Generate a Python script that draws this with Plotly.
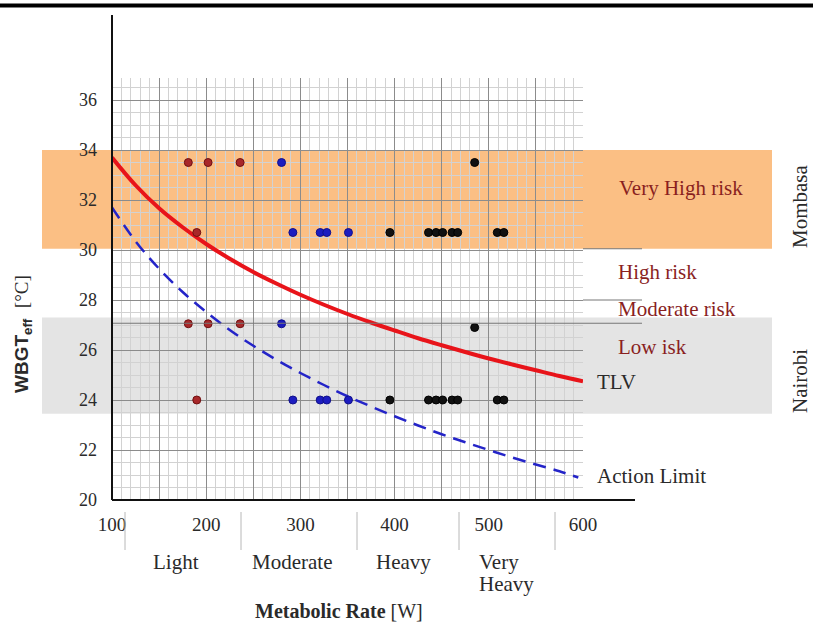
import plotly.graph_objects as go

# ---------------- data ----------------
curve_rate = [100, 125, 150, 175, 200, 225, 250, 275, 300, 325, 350,
              375, 400, 425, 450, 475, 500, 525, 550, 575, 600]
tlv_values = [33.70, 32.59, 31.67, 30.91, 30.24, 29.65, 29.12, 28.65, 28.21, 27.81, 27.44,
              27.10, 26.78, 26.47, 26.19, 25.92, 25.66, 25.42, 25.19, 24.96, 24.75]
action_rate = [100, 125, 150, 175, 200, 225, 250, 275, 300, 325, 350,
               375, 400, 425, 450, 475, 500, 525, 550, 575, 595]
action_values = [31.70, 30.35, 29.25, 28.32, 27.52, 26.80, 26.17, 25.60, 25.08, 24.60, 24.15,
                 23.74, 23.35, 22.98, 22.63, 22.31, 22.00, 21.70, 21.42, 21.15, 20.90]

red_rate = [181, 202, 236, 190, 181, 202, 236, 190]
red_wbgt = [33.5, 33.5, 33.5, 30.7, 27.05, 27.05, 27.05, 24.0]
blue_rate = [280, 292, 321, 328, 351, 280, 292, 321, 328, 351]
blue_wbgt = [33.5, 30.7, 30.7, 30.7, 30.7, 27.05, 24.0, 24.0, 24.0, 24.0]
black_rate = [485, 395, 436, 444, 451, 461, 467, 509, 516,
              485, 395, 436, 444, 451, 461, 467, 509, 516]
black_wbgt = [33.5, 30.7, 30.7, 30.7, 30.7, 30.7, 30.7, 30.7, 30.7,
              26.9, 24.0, 24.0, 24.0, 24.0, 24.0, 24.0, 24.0, 24.0]

x_tickvals = [100, 150, 200, 250, 300, 350, 400, 450, 500, 550, 600]
x_ticktext = ["100", " ", "200", " ", "300", " ", "400", " ", "500", " ", "600"]
y_tickvals = [20, 22, 24, 26, 28, 30, 32, 34, 36]
y_ticktext = ["20", "22", "24", "26", "28", "30", "32", "34", "36"]
work_classes = ["Light", "Moderate", "Heavy", "Very<br>Heavy"]
risk_labels = ["Very High risk", "High risk", "Moderate risk", "Low isk"]
limit_labels = ["TLV", "Action Limit"]
city_labels = ["Mombasa", "Nairobi"]

# ---------------- layout geometry ----------------
W, H = 813, 622
L, R, T, B = 112, 583, 78, 500   # plot area in pixels
XMIN, XMAX = 100, 600
YMIN, YMAX = 20, 36.88


def px(xp):
    return (xp - L) / (R - L)


def py(yp):
    return (B - yp) / (B - T)


def yd(v):
    return (v - YMIN) / (YMAX - YMIN)


SERIF = "Liberation Serif"
SANS = "Liberation Sans"
TXT = "#2a2a2a"
RISK = "#8a1f1f"

fig = go.Figure()

fig.add_trace(go.Scatter(x=curve_rate, y=tlv_values, mode="lines",
                         line=dict(color="#e8141a", width=4, shape="spline"),
                         showlegend=False, hoverinfo="skip"))
fig.add_trace(go.Scatter(x=action_rate, y=action_values, mode="lines",
                         line=dict(color="#2424c8", width=2.5, dash="13px,8px", shape="spline"),
                         showlegend=False, hoverinfo="skip"))
fig.add_trace(go.Scatter(x=red_rate, y=red_wbgt, mode="markers",
                         marker=dict(size=8, color="#a8282a", line=dict(color="#701010", width=1)),
                         showlegend=False))
fig.add_trace(go.Scatter(x=blue_rate, y=blue_wbgt, mode="markers",
                         marker=dict(size=8, color="#1c1cc0", line=dict(color="#10108a", width=1)),
                         showlegend=False))
fig.add_trace(go.Scatter(x=black_rate, y=black_wbgt, mode="markers",
                         marker=dict(size=8, color="#111111", line=dict(color="#000000", width=1)),
                         showlegend=False))

shapes = []
# background bands (Mombasa orange, Nairobi grey)
shapes.append(dict(type="rect", xref="paper", yref="paper", layer="below",
                   x0=px(42), x1=px(772), y0=yd(30.05), y1=yd(34.0),
                   fillcolor="#fbbf84", line=dict(width=0)))
shapes.append(dict(type="rect", xref="paper", yref="paper", layer="below",
                   x0=px(42), x1=px(772), y0=yd(23.45), y1=yd(27.3),
                   fillcolor="#e4e4e4", line=dict(width=0)))
# risk separators extending right
for v in [30.05, 28.0, 27.07]:
    shapes.append(dict(type="line", xref="paper", yref="paper", layer="above",
                       x0=px(583) if v != 27.07 else 0, x1=px(642), y0=yd(v), y1=yd(v),
                       line=dict(color="#777777", width=1)))
# top heavy rule
shapes.append(dict(type="line", xref="paper", yref="paper",
                   x0=px(0), x1=px(813), y0=py(5.5), y1=py(5.5),
                   line=dict(color="#000000", width=4)))
# y axis line (extends above plot)
shapes.append(dict(type="line", xref="paper", yref="paper",
                   x0=0, x1=0, y0=0, y1=py(15),
                   line=dict(color="#111111", width=2)))
# x axis line (extends right)
shapes.append(dict(type="line", xref="paper", yref="paper",
                   x0=0, x1=px(635), y0=0, y1=0,
                   line=dict(color="#111111", width=2)))
# separators under x axis
for xs in [125, 241, 357, 459, 555]:
    shapes.append(dict(type="line", xref="paper", yref="paper",
                       x0=px(xs), x1=px(xs), y0=py(512), y1=py(550),
                       line=dict(color="#b8b8b8", width=1)))

annotations = []
for name, xc in zip(work_classes[:3], [176, 292, 403]):
    annotations.append(dict(xref="paper", yref="paper", x=px(xc), y=py(562),
                            xanchor="center", yanchor="middle", text=name, showarrow=False,
                            font=dict(family=SERIF, size=21, color=TXT)))
for part, yc in zip(work_classes[3].split("<br>"), [562, 584]):
    annotations.append(dict(xref="paper", yref="paper", x=px(477), y=py(yc),
                            xanchor="left", yanchor="middle", text=part, showarrow=False,
                            font=dict(family=SERIF, size=21, color=TXT)))
annotations.append(dict(xref="paper", yref="paper", x=px(339), y=py(611),
                        xanchor="center", yanchor="middle",
                        text="<b>Metabolic Rate</b> [W]", showarrow=False,
                        font=dict(family=SERIF, size=20, color=TXT)))
annotations.append(dict(xref="paper", yref="paper", x=px(23), y=py(334),
                        xanchor="center", yanchor="middle", textangle=-90,
                        text="<b>WBGT<sub>eff</sub></b>  <span style='font-family:Liberation Serif'>[°C]</span>",
                        showarrow=False, font=dict(family=SANS, size=19, color=TXT)))
annotations.append(dict(xref="paper", yref="paper", x=px(681), y=py(188),
                        xanchor="center", yanchor="middle", text=risk_labels[0], showarrow=False,
                        font=dict(family=SERIF, size=21, color=RISK)))
for name, yc in zip(risk_labels[1:], [272, 309, 347]):
    annotations.append(dict(xref="paper", yref="paper", x=px(616), y=py(yc),
                            xanchor="left", yanchor="middle", text=name, showarrow=False,
                            font=dict(family=SERIF, size=21, color=RISK)))
for name, yc in zip(limit_labels, [382, 476]):
    annotations.append(dict(xref="paper", yref="paper", x=px(595), y=py(yc),
                            xanchor="left", yanchor="middle", text=name, showarrow=False,
                            font=dict(family=SERIF, size=21, color=TXT)))
for name, yc in zip(city_labels, [206, 381]):
    annotations.append(dict(xref="paper", yref="paper", x=px(800), y=py(yc),
                            xanchor="center", yanchor="middle", text=name, textangle=-90,
                            showarrow=False, font=dict(family=SERIF, size=21, color=TXT)))

fig.update_layout(
    width=W, height=H,
    margin=dict(l=L, r=W - R, t=T, b=H - B),
    paper_bgcolor="white", plot_bgcolor="rgba(0,0,0,0)",
    shapes=shapes, annotations=annotations, showlegend=False,
    xaxis=dict(range=[XMIN, XMAX], tickvals=x_tickvals, ticktext=x_ticktext,
               showgrid=True, gridcolor="#8c8c8c", gridwidth=1,
               minor=dict(dtick=10, showgrid=True, gridcolor="#d2d2d2", gridwidth=1),
               showline=False, zeroline=False, ticks="", ticklabelstandoff=11,
               tickfont=dict(family=SERIF, size=19, color=TXT)),
    yaxis=dict(range=[YMIN, YMAX], tickvals=y_tickvals, ticktext=y_ticktext,
               showgrid=True, gridcolor="#8c8c8c", gridwidth=1,
               minor=dict(dtick=0.5, showgrid=True, gridcolor="#d2d2d2", gridwidth=1),
               showline=False, zeroline=False, ticks="", ticklabelstandoff=14,
               tickfont=dict(family=SERIF, size=18, color=TXT)),
)

fig.write_html("out.html", config={"displayModeBar": False},
               post_script="document.body.style.margin='0';document.body.style.overflow='hidden';")
